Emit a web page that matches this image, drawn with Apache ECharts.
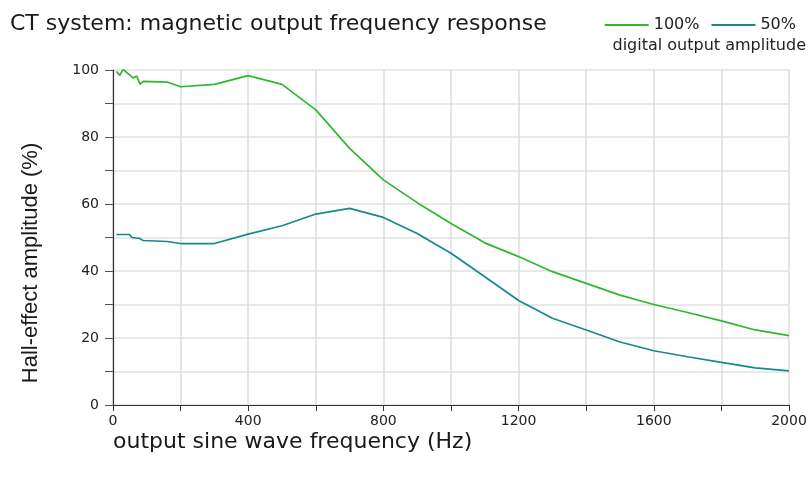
<!DOCTYPE html>
<html>
<head>
<meta charset="utf-8">
<script src="https://cdn.jsdelivr.net/npm/echarts@6/dist/echarts.min.js"></script>
<style>
  html, body { margin: 0; padding: 0; background: #fff; }
  #main { width: 810px; height: 484px; }
</style>
</head>
<body>
<div id="main"></div>
<script>
// frequency (Hz) and amplitude (%)
var freq100 = [10, 20, 30, 60, 70, 80, 90, 160, 200, 300, 400, 500, 600, 700, 800, 900, 1000, 1100, 1200, 1300, 1400, 1500, 1600, 1700, 1800, 1900, 2000];
var amp100 = [99.6, 98.4, 100.2, 97.6, 98.2, 95.8, 96.6, 96.4, 95.0, 95.7, 98.3, 95.7, 88.1, 76.6, 67.2, 60.4, 54.2, 48.4, 44.3, 39.8, 36.3, 32.8, 30.0, 27.6, 25.1, 22.4, 20.7];

var freq50 = [10, 49, 56, 79, 89, 160, 200, 300, 400, 500, 600, 700, 800, 900, 1000, 1100, 1200, 1300, 1400, 1500, 1600, 1700, 1800, 1900, 2000];
var amp50 = [50.9, 50.9, 50.0, 49.7, 49.1, 48.8, 48.2, 48.2, 51.0, 53.5, 57.0, 58.7, 56.0, 51.2, 45.3, 38.3, 31.2, 25.9, 22.4, 18.8, 16.2, 14.4, 12.7, 11.1, 10.2];

var seriesNames = ["100%", "50%"];
var lineColors = ["#2eb82e", "#17898c"];

function pairs(xs, ys) {
  return xs.map(function (x, i) { return [x, ys[i]]; });
}

var myChart = echarts.init(document.getElementById("main"));

var axisText = { color: "#222", fontSize: 14, fontFamily: "DejaVu Sans" };

var option = {
  animation: false,
  title: {
    text: "CT system: magnetic output frequency response",
    left: 5,
    top: 8,
    textStyle: { color: "#1a1a1a", fontSize: 22, fontWeight: "normal", fontFamily: "DejaVu Sans" }
  },
  legend: {
    right: 9,
    top: 12,
    itemWidth: 44,
    itemHeight: 2,
    itemGap: 12,
    icon: "rect",
    textStyle: { color: "#222", fontSize: 16, fontFamily: "DejaVu Sans" },
    data: seriesNames
  },
  graphic: [
    {
      type: "text",
      right: 4,
      top: 38,
      style: { text: "digital output amplitude", fill: "#222", fontSize: 16, fontFamily: "DejaVu Sans" }
    },
    {
      type: "text",
      x: 31,
      y: 263,
      rotation: Math.PI / 2,
      style: {
        text: "Hall-effect amplitude (%)",
        fill: "#1a1a1a",
        fontSize: 22,
        fontFamily: "Liberation Sans",
        align: "center",
        verticalAlign: "middle"
      }
    }
  ],
  grid: { left: 113, right: 21, top: 70, bottom: 79 },
  xAxis: {
    type: "value",
    min: 0,
    max: 2000,
    interval: 200,
    name: "output sine wave frequency (Hz)",
    nameLocation: "start",
    nameGap: 0,
    nameTextStyle: { color: "#1a1a1a", fontSize: 22, fontFamily: "DejaVu Sans", align: "left", verticalAlign: "top", padding: [26, 0, 0, 0] },
    axisLine: { lineStyle: { color: "#333", width: 1.2 } },
    axisTick: { show: true, length: 6, lineStyle: { color: "#333" } },
    axisLabel: Object.assign({
      margin: 9,
      formatter: function (v) { return v % 400 === 0 ? String(v) : ""; }
    }, axisText),
    splitLine: { show: true, lineStyle: { color: "#dcdcdc", width: 1.5 } }
  },
  yAxis: {
    type: "value",
    min: 0,
    max: 100,
    interval: 10,
    axisLine: { show: true, lineStyle: { color: "#333", width: 1.2 } },
    axisTick: { show: true, length: 8, lineStyle: { color: "#555" } },
    axisLabel: Object.assign({
      margin: 14,
      formatter: function (v) { return v % 20 === 0 ? String(v) : ""; }
    }, axisText),
    splitLine: { show: true, lineStyle: { color: "#e2e2e2", width: 1.5 } }
  },
  series: [
    {
      name: seriesNames[0],
      type: "line",
      data: pairs(freq100, amp100),
      showSymbol: false,
      lineStyle: { color: lineColors[0], width: 1.7 },
      itemStyle: { color: lineColors[0] }
    },
    {
      name: seriesNames[1],
      type: "line",
      data: pairs(freq50, amp50),
      showSymbol: false,
      lineStyle: { color: lineColors[1], width: 1.7 },
      itemStyle: { color: lineColors[1] }
    }
  ]
};

myChart.setOption(option);
</script>
</body>
</html>
